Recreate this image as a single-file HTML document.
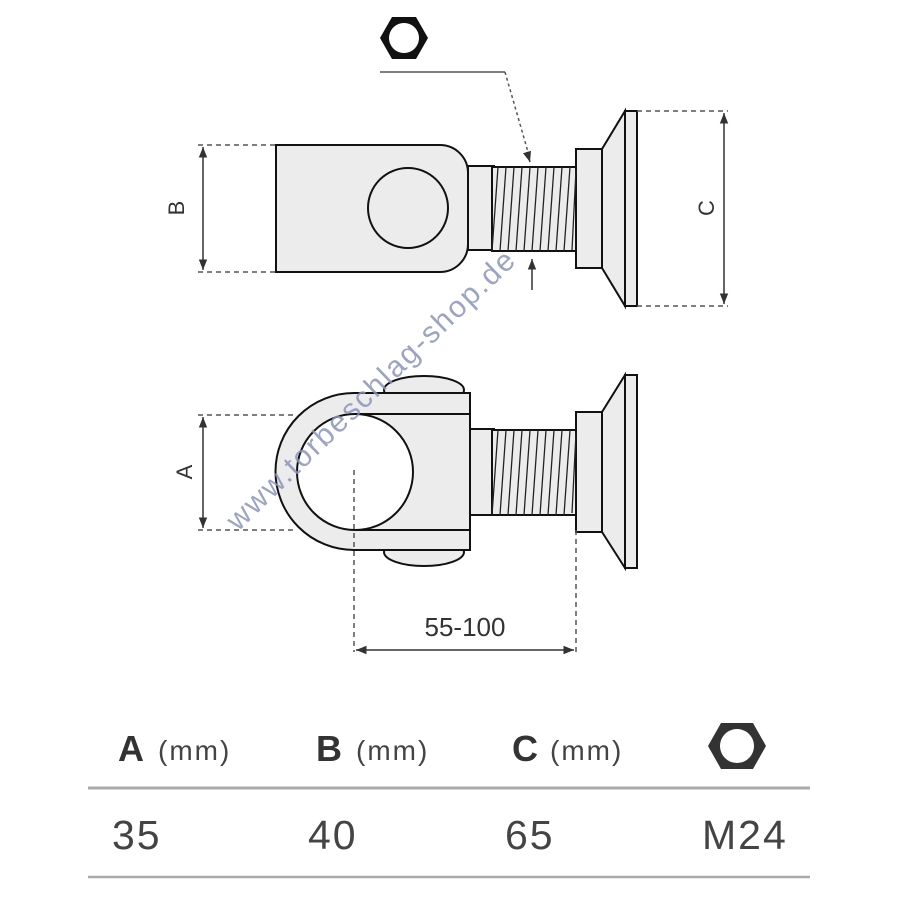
<!DOCTYPE html>
<html><head><meta charset="utf-8"><style>html,body{margin:0;padding:0;background:#fff}svg{display:block}</style></head><body>
<svg width="900" height="900" viewBox="0 0 900 900" xmlns="http://www.w3.org/2000/svg" font-family="Liberation Sans, sans-serif">
<defs>
<marker id="ar" viewBox="0 0 10 10" refX="10" refY="5" markerWidth="7" markerHeight="7" orient="auto-start-reverse"><path d="M0,1 L10,5 L0,9 z" fill="#333"/></marker>
</defs>
<g stroke="#111" stroke-width="2" fill="#ececec">
<path d="M276,145 H440 A28,28 0 0 1 468,173 V244 A28,28 0 0 1 440,272 H276 Z"/>
<circle cx="408" cy="208" r="40"/>
<rect x="468" y="166" width="26" height="84"/>
<rect x="492" y="167" width="84" height="84"/>
<rect x="576" y="149" width="26" height="119"/>
<polygon points="602,149 625,111 625,306 602,268"/>
<rect x="625" y="111" width="12" height="195"/>
<ellipse cx="424" cy="390" rx="40" ry="14"/>
<ellipse cx="424" cy="552" rx="40" ry="14"/>
<path d="M354,393 H470 V550 H354 A78,78 0 0 1 354,393 Z"/>
<line x1="354" y1="414" x2="470" y2="414"/>
<line x1="354" y1="530" x2="470" y2="530"/>
<circle cx="355" cy="472" r="58" fill="#fff"/>
<rect x="470" y="429" width="24" height="86"/>
<rect x="492" y="430" width="84" height="85"/>
<rect x="576" y="412" width="26" height="120"/>
<polygon points="602,412 625,375 625,568 602,532"/>
<rect x="625" y="375" width="12" height="193"/>
</g>
<g stroke="#222" stroke-width="1.3" fill="none">
<path d="M498,167 l-6,84 M506,167 l-6,84 M514,167 l-6,84 M522,167 l-6,84 M530,167 l-6,84 M538,167 l-6,84 M546,167 l-6,84 M554,167 l-6,84 M562,167 l-6,84 M570,167 l-6,84 M576,170 l-4,80"/>
<path d="M498,430 l-6,85 M506,430 l-6,85 M514,430 l-6,85 M522,430 l-6,85 M530,430 l-6,85 M538,430 l-6,85 M546,430 l-6,85 M554,430 l-6,85 M562,430 l-6,85 M570,430 l-6,85 M576,433 l-4,80"/>
</g>
<g stroke="#555" stroke-width="1.5" stroke-dasharray="5,4" fill="none">
<line x1="198" y1="145" x2="276" y2="145"/><line x1="198" y1="272" x2="276" y2="272"/>
<line x1="637" y1="111" x2="728" y2="111"/><line x1="637" y1="306" x2="728" y2="306"/>
<line x1="198" y1="415" x2="297" y2="415"/><line x1="198" y1="530" x2="297" y2="530"/>
<line x1="354" y1="470" x2="354" y2="652"/><line x1="576" y1="530" x2="576" y2="652"/>
<path d="M505,72 L528,152" stroke-dasharray="3,3"/>
</g>
<line x1="380" y1="72" x2="505" y2="72" stroke="#555" stroke-width="1.5"/>
<g stroke="#333" stroke-width="1.5" fill="none">
<line x1="203" y1="147" x2="203" y2="270" marker-start="url(#ar)" marker-end="url(#ar)"/>
<line x1="724" y1="113" x2="724" y2="304" marker-start="url(#ar)" marker-end="url(#ar)"/>
<line x1="203" y1="417" x2="203" y2="528" marker-start="url(#ar)" marker-end="url(#ar)"/>
<line x1="356" y1="650" x2="574" y2="650" marker-start="url(#ar)" marker-end="url(#ar)"/>
<line x1="527" y1="152" x2="530" y2="162" marker-end="url(#ar)"/>
<line x1="532" y1="290" x2="532" y2="259" marker-end="url(#ar)"/>
</g>
<g fill="#333" font-size="22">
<text transform="translate(184,208) rotate(-90)" text-anchor="middle">B</text>
<text transform="translate(714,208) rotate(-90)" text-anchor="middle">C</text>
<text transform="translate(192,472) rotate(-90)" text-anchor="middle">A</text>
<text x="465" y="636" text-anchor="middle" font-size="26">55-100</text>
</g>
<path d="M380,38 L392,17 L416,17 L428,38 L416,59 L392,59 Z M404,23 A15,15 0 1 0 404.01,23 Z" fill="#111" fill-rule="evenodd"/>
<text transform="translate(238,532) rotate(-44)" fill="#8a95b8" font-size="30" opacity="0.85" letter-spacing="2">www.torbeschlag-shop.de</text>
<g fill="#333">
<text x="118" y="761" font-size="36" font-weight="bold">A</text><text x="158" y="760" font-size="28" fill="#444" letter-spacing="2">(mm)</text>
<text x="316" y="761" font-size="36" font-weight="bold">B</text><text x="356" y="760" font-size="28" fill="#444" letter-spacing="2">(mm)</text>
<text x="512" y="761" font-size="36" font-weight="bold">C</text><text x="550" y="760" font-size="28" fill="#444" letter-spacing="2">(mm)</text>
</g>
<path d="M708,746 L721,723 L753,723 L766,746 L753,769 L721,769 Z M737,729 A17,17 0 1 0 737.01,729 Z" fill="#333" fill-rule="evenodd"/>
<line x1="88" y1="788" x2="810" y2="788" stroke="#aaa" stroke-width="3"/>
<line x1="88" y1="877" x2="810" y2="877" stroke="#aaa" stroke-width="2.5"/>
<g fill="#444" font-size="41" letter-spacing="2">
<text x="112" y="849">35</text>
<text x="308" y="849">40</text>
<text x="505" y="849">65</text>
<text x="702" y="849">M24</text>
</g>
</svg>
</body></html>
